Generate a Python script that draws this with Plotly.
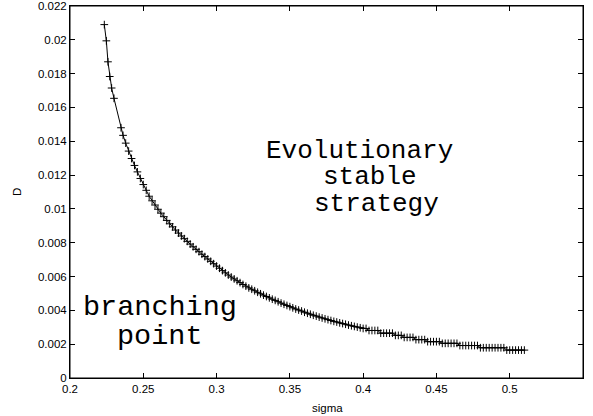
import plotly.graph_objects as go

sigma = [0.2234, 0.2248, 0.2259, 0.2271, 0.2284, 0.2300, 0.2348, 0.2362,
         0.238, 0.240, 0.242, 0.244, 0.246, 0.248, 0.250, 0.252, 0.254, 0.256, 0.258,
         0.260, 0.262, 0.264, 0.266, 0.268, 0.270, 0.272, 0.274, 0.276, 0.278,
         0.280, 0.282, 0.284, 0.286, 0.288, 0.290, 0.292, 0.294, 0.296, 0.298,
         0.300, 0.302, 0.304, 0.306, 0.308, 0.310, 0.312, 0.314, 0.316, 0.318,
         0.320, 0.322, 0.324, 0.326, 0.328, 0.330, 0.332, 0.334, 0.336, 0.338,
         0.340, 0.342, 0.344, 0.346, 0.348, 0.350, 0.352, 0.354, 0.356, 0.358,
         0.360, 0.362, 0.364, 0.366, 0.368, 0.370, 0.372, 0.374, 0.376, 0.378,
         0.380, 0.382, 0.384, 0.386, 0.388, 0.390, 0.392, 0.394, 0.396, 0.398,
         0.400, 0.402, 0.404, 0.406, 0.408, 0.410, 0.412, 0.414, 0.416, 0.418,
         0.420, 0.422, 0.424, 0.426, 0.428, 0.430, 0.432, 0.434, 0.436, 0.438,
         0.440, 0.442, 0.444, 0.446, 0.448, 0.450, 0.452, 0.454, 0.456, 0.458,
         0.460, 0.462, 0.464, 0.466, 0.468, 0.470, 0.472, 0.474, 0.476, 0.478,
         0.480, 0.482, 0.484, 0.486, 0.488, 0.490, 0.492, 0.494, 0.496, 0.498,
         0.500, 0.502, 0.504, 0.506, 0.508, 0.510]

D = [0.02090, 0.01994, 0.01870, 0.01783, 0.01715, 0.01654, 0.01480, 0.01435,
     0.01389, 0.01342, 0.01298, 0.01257, 0.01219, 0.01180, 0.01144, 0.01110, 0.01075, 0.01048, 0.01023,
     0.00998, 0.00975, 0.00954, 0.00932, 0.00912, 0.00894, 0.00875, 0.00857, 0.00840, 0.00824,
     0.00808, 0.00792, 0.00776, 0.00761, 0.00747, 0.00732, 0.00718, 0.00704, 0.00690, 0.00676,
     0.00662, 0.00649, 0.00635, 0.00622, 0.00609, 0.00597, 0.00586, 0.00575, 0.00564, 0.00553,
     0.00543, 0.00533, 0.00525, 0.00516, 0.00507, 0.00498, 0.00490, 0.00482, 0.00474, 0.00466,
     0.00459, 0.00451, 0.00443, 0.00436, 0.00429, 0.00422, 0.00415, 0.00408, 0.00402, 0.00396,
     0.00389, 0.00383, 0.00377, 0.00371, 0.00366, 0.00360, 0.00355, 0.00350, 0.00345, 0.00340,
     0.00335, 0.00331, 0.00326, 0.00322, 0.00318, 0.00313, 0.00309, 0.00305, 0.00301, 0.00297,
     0.00293, 0.00293, 0.00281, 0.00281, 0.00281, 0.00281, 0.00265, 0.00265, 0.00265, 0.00265,
     0.00265, 0.00252, 0.00252, 0.00252, 0.00240, 0.00240, 0.00240, 0.00240, 0.00227, 0.00227,
     0.00227, 0.00227, 0.00215, 0.00215, 0.00215, 0.00215, 0.00215, 0.00205, 0.00205, 0.00205,
     0.00205, 0.00205, 0.00205, 0.00192, 0.00192, 0.00192, 0.00192, 0.00192, 0.00192, 0.00192,
     0.00179, 0.00179, 0.00179, 0.00179, 0.00179, 0.00179, 0.00179, 0.00179, 0.00179, 0.00165,
     0.00165, 0.00165, 0.00165, 0.00165, 0.00165, 0.00165]

x_ticks = [0.2, 0.25, 0.3, 0.35, 0.4, 0.45, 0.5, 0.55]
x_tick_text = ["0.2", "0.25", "0.3", "0.35", "0.4", "0.45", "0.5", "0.55"]
y_ticks = [0, 0.002, 0.004, 0.006, 0.008, 0.01, 0.012, 0.014, 0.016, 0.018, 0.02, 0.022]
y_tick_text = ["0", "0.002", "0.004", "0.006", "0.008", "0.01", "0.012", "0.014",
               "0.016", "0.018", "0.02", "0.022"]

fig = go.Figure()
fig.add_trace(go.Scatter(
    x=sigma, y=D, mode="lines+markers",
    line=dict(color="black", width=1),
    marker=dict(symbol="cross-thin", size=5.5, color="black",
                line=dict(color="black", width=1)),
    showlegend=False,
))

tick_font = dict(family="Liberation Sans, Arial, sans-serif", size=11.5, color="black")
axis_common = dict(showline=True, linecolor="black", linewidth=1, mirror="ticks",
                   ticks="inside", ticklen=5, tickcolor="black", tickwidth=1,
                   showgrid=False, zeroline=False, tickfont=tick_font, automargin=False)

fig.update_layout(
    width=593, height=416,
    margin=dict(l=70, r=10, t=6, b=38, autoexpand=False),
    paper_bgcolor="white", plot_bgcolor="white",
    xaxis=dict(range=[0.2, 0.55], tickvals=x_ticks, ticktext=x_tick_text, **axis_common),
    yaxis=dict(range=[0, 0.022], tickvals=y_ticks, ticktext=y_tick_text, **axis_common),
)

fig.add_shape(type="rect", xref="paper", yref="paper", x0=0, x1=1, y0=0, y1=1,
              line=dict(color="black", width=1), fillcolor="rgba(0,0,0,0)", layer="above")

mono = "Liberation Mono, Courier New, monospace"
labels = [
    ("Evolutionary", 0.5653, 0.6110, 26),
    ("stable", 0.5848, 0.5405, 26),
    ("strategy", 0.5965, 0.4680, 26),
    ("branching", 0.1760, 0.1890, 28.5),
    ("point", 0.1754, 0.1110, 28.5),
]
for txt, xp, yp, fs in labels:
    fig.add_annotation(text=txt, x=xp, y=yp, xref="paper", yref="paper",
                       xanchor="center", yanchor="middle", showarrow=False,
                       font=dict(family=mono, size=fs, color="black"))

fig.add_annotation(text="sigma", x=0.501, y=-0.0798, xref="paper", yref="paper",
                   xanchor="center", yanchor="middle", showarrow=False, font=tick_font)
fig.add_annotation(text="D", x=-0.1033, y=0.5, xref="paper", yref="paper",
                   xanchor="center", yanchor="middle", textangle=-90, showarrow=False,
                   font=tick_font)

fig.write_html("out.html",
               config={"displayModeBar": False},
               post_script="document.body.style.margin='0';document.body.style.padding='0';document.body.style.overflow='hidden';")
